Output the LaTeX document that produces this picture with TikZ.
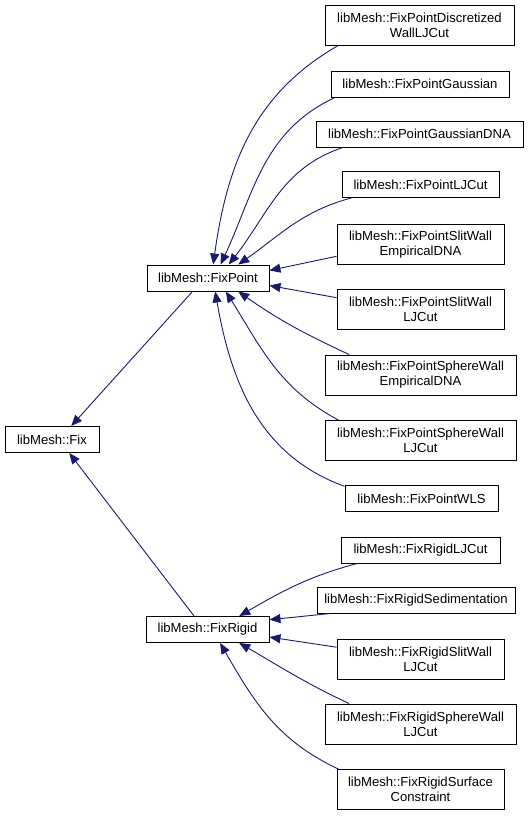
\documentclass[tikz,border=0pt]{standalone}
\usepackage{fontspec}
\setmainfont{Liberation Sans}
\usepackage{tikz}
\usetikzlibrary{arrows.meta,positioning}
\definecolor{midnight}{HTML}{191970}

\tikzset{
  cls/.style={draw=black, fill=white, line width=0.9pt, align=center, inner sep=0pt,
    font=\fontsize{13.1}{15}\selectfont},
  one/.style={minimum width=#1, minimum height=26},
  two/.style={minimum width=#1, minimum height=40},
  inherit/.style={draw=midnight, line width=0.9pt, -{Triangle[length=11pt,width=9pt,fill=midnight]}}
}

\begin{document}
\begin{tikzpicture}[x=1pt,y=-1pt]
      \useasboundingbox (0,0) rectangle (529,816);
      % base classes
      \node[cls,one=94] (fix) at (52,439.5) {libMesh::Fix};
      \node[cls,one=122] (fixpoint) at (208,278) {libMesh::FixPoint};
      \node[cls,one=123] (fixrigid) at (207.5,629.5) {libMesh::FixRigid};
      % FixPoint children
      \node[cls,two=189] (discwall) at (419.5,25.5) {libMesh::FixPointDiscretized\\WallLJCut};
      \node[cls,one=178] (gauss) at (420,84) {libMesh::FixPointGaussian};
      \node[cls,one=207] (gaussdna) at (419.5,134) {libMesh::FixPointGaussianDNA};
      \node[cls,one=157] (pljcut) at (420.5,184.5) {libMesh::FixPointLJCut};
      \node[cls,two=167] (pslitemp) at (420.5,244.5) {libMesh::FixPointSlitWall\\EmpiricalDNA};
      \node[cls,two=167] (pslitlj) at (420.5,309.5) {libMesh::FixPointSlitWall\\LJCut};
      \node[cls,two=191] (psphemp) at (420.5,375) {libMesh::FixPointSphereWall\\EmpiricalDNA};
      \node[cls,two=191] (psphlj) at (420.5,440.5) {libMesh::FixPointSphereWall\\LJCut};
      \node[cls,one=153] (pwls) at (421.5,498.5) {libMesh::FixPointWLS};
      % FixRigid children
      \node[cls,one=159] (rljcut) at (420.5,550) {libMesh::FixRigidLJCut};
      \node[cls,one=198] (rsed) at (416,600) {libMesh::FixRigidSedimentation};
      \node[cls,two=167] (rslit) at (420.5,659) {libMesh::FixRigidSlitWall\\LJCut};
      \node[cls,two=191] (rsphere) at (420.5,724) {libMesh::FixRigidSphereWall\\LJCut};
      \node[cls,two=167] (rsurf) at (420.5,789.5) {libMesh::FixRigidSurface\\Constraint};
      % inheritance arrows
      \draw[inherit] (fixpoint.221) -- (fix.35);
      \draw[inherit] (fixrigid.135) -- (fix.-38);
      \draw[inherit] (discwall.194) to[out=210,in=82] (fixpoint.69);
      \draw[inherit] (gauss.189) to[out=205,in=65] (fixpoint.47);
      \draw[inherit] (gaussdna.190) to[out=198,in=52] (fixpoint.33);
      \draw[inherit] (pljcut.191) to[out=195,in=35] (fixpoint.24);
      \draw[inherit] (pslitemp.188) -- (fixpoint.7);
      \draw[inherit] (pslitlj.172) -- (fixpoint.-7);
      \draw[inherit] (psphemp.164) to[out=155,in=-35] (fixpoint.-24);
      \draw[inherit] (psphlj.166) to[out=152,in=-58] (fixpoint.-37);
      \draw[inherit] (pwls.171) to[out=160,in=-80] (fixpoint.-62);
      \draw[inherit] (rljcut.192) to[out=195,in=30] (fixrigid.23);
      \draw[inherit] (rsed.189) -- (fixrigid.9);
      \draw[inherit] (rslit.172) -- (fixrigid.-7);
      \draw[inherit] (rsphere.164) to[out=155,in=-30] (fixrigid.-23);
      \draw[inherit] (rsurf.166) to[out=155,in=-60] (fixrigid.-47);
    \end{tikzpicture}
\end{document}
